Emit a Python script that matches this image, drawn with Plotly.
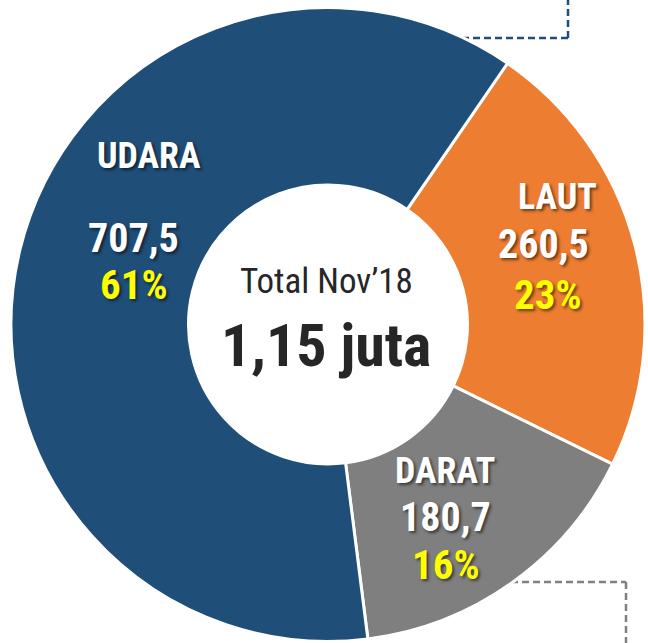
import plotly.graph_objects as go

# ---- data ----
categories = ["LAUT", "DARAT", "UDARA"]
values = [260.5, 180.7, 707.5]
value_labels = ["260,5", "180,7", "707,5"]
pct_labels = ["23%", "16%", "61%"]
colors = ["#ED7D31", "#7F7F7F", "#1F4E79"]
center_title = "Total Nov\u201918"
center_total = "1,15 juta"

W, H = 648, 643
FONT = "Liberation Sans Narrow, Arial Narrow, Roboto Condensed, Liberation Sans, Arial, sans-serif"

def px(x):
    return x / W

def py(y):
    return 1 - y / H

fig = go.Figure()
fig.add_trace(go.Pie(
    labels=categories,
    values=values,
    sort=False,
    direction="clockwise",
    rotation=34.5,
    hole=0.44,
    marker=dict(colors=colors, line=dict(color="white", width=3)),
    textinfo="none",
    hoverinfo="label+value",
    showlegend=False,
    domain=dict(x=[px(11), px(645)], y=[py(642), py(7)]),
))

shadow = "2px 2px 3px rgba(0,0,0,0.55)"
# label block positions (pixel centres) for name, value, percent
label_pos = {
    "LAUT": [(557, 197), (543, 245), (548, 295)],
    "DARAT": [(445, 471), (445, 517), (446, 565)],
    "UDARA": [(149, 156), (133, 238), (134, 285)],
}
annotations = []
for cat, val, pct in zip(categories, value_labels, pct_labels):
    p = label_pos[cat]
    annotations.append(dict(x=px(p[0][0]), y=py(p[0][1]), text="<b>%s</b>" % cat,
                            font=dict(family=FONT, size=36, color="white", shadow=shadow)))
    annotations.append(dict(x=px(p[1][0]), y=py(p[1][1]), text="<b>%s</b>" % val,
                            font=dict(family=FONT, size=40, color="white", shadow=shadow)))
    annotations.append(dict(x=px(p[2][0]), y=py(p[2][1]), text="<b>%s</b>" % pct,
                            font=dict(family=FONT, size=41, color="#FFFF00", shadow=shadow)))

annotations.append(dict(x=px(326), y=py(281), text=center_title,
                        font=dict(family=FONT, size=35, color="#262626")))
annotations.append(dict(x=px(326), y=py(346), text="<b>%s</b>" % center_total,
                        font=dict(family=FONT, size=60, color="#262626")))
for a in annotations:
    a.update(xref="paper", yref="paper", showarrow=False, xanchor="center", yanchor="middle")

dash = "7px,4px"
shapes = [
    dict(type="line", x0=px(440), y0=py(38), x1=px(568), y1=py(38),
         line=dict(color="#1F4E79", width=2.5, dash=dash)),
    dict(type="line", x0=px(568), y0=py(38), x1=px(568), y1=py(-2),
         line=dict(color="#1F4E79", width=2.5, dash=dash)),
    dict(type="line", x0=px(500), y0=py(582), x1=px(626), y1=py(582),
         line=dict(color="#808080", width=2.5, dash=dash)),
    dict(type="line", x0=px(626), y0=py(582), x1=px(626), y1=py(650),
         line=dict(color="#808080", width=2.5, dash=dash)),
]
for s in shapes:
    s.update(xref="paper", yref="paper", layer="below")

fig.update_layout(
    width=W, height=H,
    margin=dict(l=0, r=0, t=0, b=0),
    paper_bgcolor="white", plot_bgcolor="white",
    annotations=annotations,
    shapes=shapes,
)

fig.write_html("out.html", config={"displayModeBar": False},
               post_script="document.body.style.margin='0';document.body.style.overflow='hidden';")
